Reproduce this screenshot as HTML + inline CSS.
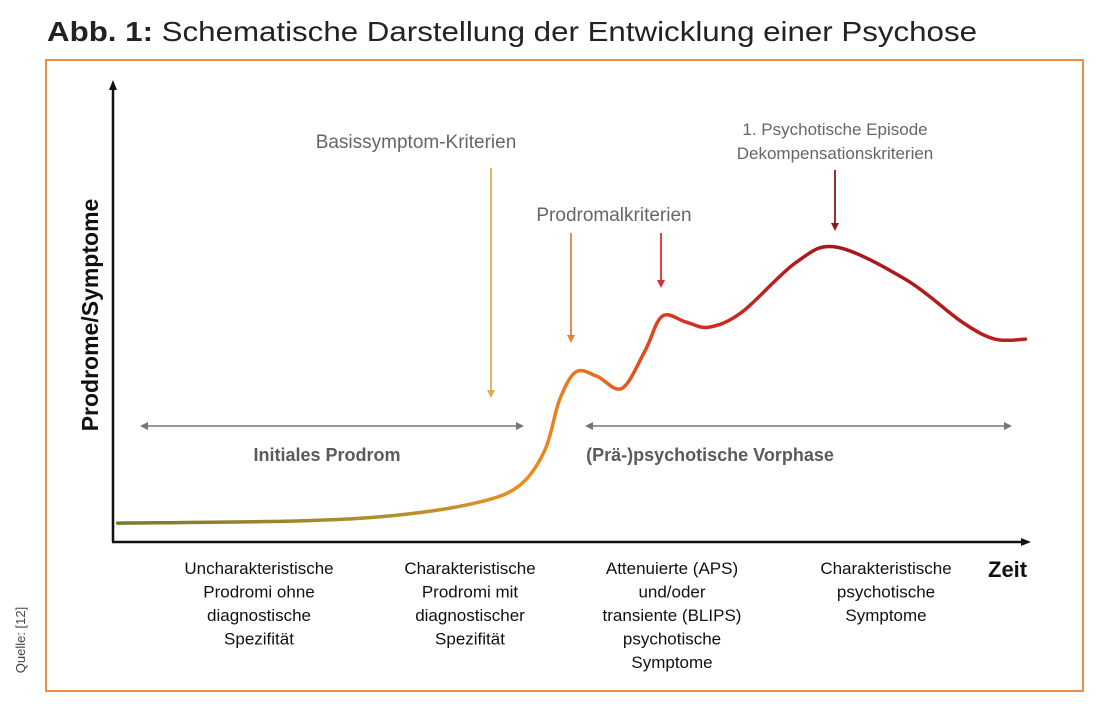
<!DOCTYPE html>
<html><head><meta charset="utf-8"><style>
body{margin:0;background:#fff;}
svg{display:block;font-family:"Liberation Sans",Arial,sans-serif;}
</style></head><body>
<svg width="1100" height="722" viewBox="0 0 1100 722">
<defs>
<linearGradient id="cg" gradientUnits="userSpaceOnUse" x1="118" y1="0" x2="1025" y2="0">
<stop offset="0" stop-color="#7a7a28"/>
<stop offset="0.3" stop-color="#b09030"/>
<stop offset="0.45" stop-color="#e8901e"/>
<stop offset="0.53" stop-color="#e86a20"/>
<stop offset="0.62" stop-color="#d83222"/>
<stop offset="0.78" stop-color="#a8161a"/>
<stop offset="1" stop-color="#b82020"/>
</linearGradient>
</defs>
<text x="47" y="41" font-size="28" fill="#222" textLength="930" lengthAdjust="spacingAndGlyphs"><tspan font-weight="bold">Abb. 1:</tspan> Schematische Darstellung der Entwicklung einer Psychose</text>
<rect x="46" y="60" width="1037" height="631" fill="none" stroke="#e8904a" stroke-width="2"/>
<text transform="translate(25,640) rotate(-90)" text-anchor="middle" font-size="13" fill="#444">Quelle: [12]</text>
<line x1="113" y1="542" x2="113" y2="88" stroke="#111" stroke-width="2.5"/>
<polygon points="113,80 109,90 117,90" fill="#111"/>
<line x1="112" y1="542" x2="1022" y2="542" stroke="#111" stroke-width="2.5"/>
<polygon points="1031,542 1021,538 1021,546" fill="#111"/>
<text transform="translate(98,315) rotate(-90)" text-anchor="middle" font-size="23" font-weight="bold" fill="#111">Prodrome/Symptome</text>
<text x="988" y="577" font-size="22" font-weight="bold" fill="#111">Zeit</text>
<g id="curve-layer"></g>
<g id="annot" font-size="19" fill="#666" text-anchor="middle">
<text x="416" y="148">Basissymptom-Kriterien</text>
<line x1="491" y1="168" x2="491" y2="392" stroke="#d9b050" stroke-width="1.8"/>
<polygon points="491,398 487,390 495,390" fill="#d9b050"/>
<text x="614" y="221">Prodromalkriterien</text>
<line x1="571" y1="233" x2="571" y2="336" stroke="#e8803a" stroke-width="1.8"/>
<polygon points="571,343 567,335 575,335" fill="#e8803a"/>
<line x1="661" y1="233" x2="661" y2="281" stroke="#d83030" stroke-width="1.8"/>
<polygon points="661,288 657,280 665,280" fill="#d83030"/>
<text x="835" y="135" font-size="17">1. Psychotische Episode</text>
<text x="835" y="159" font-size="17">Dekompensationskriterien</text>
<line x1="835" y1="170" x2="835" y2="224" stroke="#901818" stroke-width="1.8"/>
<polygon points="835,231 831,223 839,223" fill="#901818"/>
<line x1="146" y1="426" x2="518" y2="426" stroke="#777" stroke-width="1.5"/>
<polygon points="140,426 148,422 148,430" fill="#777"/>
<polygon points="524,426 516,422 516,430" fill="#777"/>
<line x1="591" y1="426" x2="1006" y2="426" stroke="#777" stroke-width="1.5"/>
<polygon points="585,426 593,422 593,430" fill="#777"/>
<polygon points="1012,426 1004,422 1004,430" fill="#777"/>
<text x="327" y="461" font-size="18" font-weight="bold" fill="#5a5a5a">Initiales Prodrom</text>
<text x="710" y="461" font-size="18" font-weight="bold" fill="#5a5a5a">(Prä-)psychotische Vorphase</text>
</g>
<g font-size="17" fill="#111" text-anchor="middle">
<text><tspan x="259" y="574">Uncharakteristische</tspan><tspan x="259" y="597.5">Prodromi ohne</tspan><tspan x="259" y="621">diagnostische</tspan><tspan x="259" y="644.5">Spezifität</tspan></text>
<text><tspan x="470" y="574">Charakteristische</tspan><tspan x="470" y="597.5">Prodromi mit</tspan><tspan x="470" y="621">diagnostischer</tspan><tspan x="470" y="644.5">Spezifität</tspan></text>
<text><tspan x="672" y="574">Attenuierte (APS)</tspan><tspan x="672" y="597.5">und/oder</tspan><tspan x="672" y="621">transiente (BLIPS)</tspan><tspan x="672" y="644.5">psychotische</tspan><tspan x="672" y="668">Symptome</tspan></text>
<text><tspan x="886" y="574">Charakteristische</tspan><tspan x="886" y="597.5">psychotische</tspan><tspan x="886" y="621">Symptome</tspan></text>
</g>
</svg>
<script>
const timePoints = [0.5, 20.4, 31.3, 40, 44.4, 47.1, 48.7, 50.5, 52.8, 55.5, 58, 59.9, 62.5, 65.0, 68.6, 74.5, 78.9, 86.5, 92.6, 96.2, 99.5];
const symptomLevels = [4.1, 4.6, 5.9, 8.7, 12.4, 20, 30.9, 37, 36.0, 33.4, 41.5, 49.1, 47.8, 46.7, 50.0, 60.8, 64.1, 57.0, 47.8, 44.1, 44.1];
function xScale(t){ return 113 + t * 9.17; }
function yScale(v){ return 542 - v * 4.6; }
const pts = timePoints.map((t,i)=>[xScale(t), yScale(symptomLevels[i])]);
let d = 'M' + pts[0][0] + ',' + pts[0][1];
for (let i=0;i<pts.length-1;i++){
  const p0=pts[Math.max(i-1,0)], p1=pts[i], p2=pts[i+1], p3=pts[Math.min(i+2,pts.length-1)];
  const c1x=p1[0]+(p2[0]-p0[0])/6, c1y=p1[1]+(p2[1]-p0[1])/6;
  const c2x=p2[0]-(p3[0]-p1[0])/6, c2y=p2[1]-(p3[1]-p1[1])/6;
  d += ' C'+c1x+','+c1y+' '+c2x+','+c2y+' '+p2[0]+','+p2[1];
}
const path = document.createElementNS('http://www.w3.org/2000/svg','path');
path.setAttribute('d', d);
path.setAttribute('fill','none');
path.setAttribute('stroke','url(#cg)');
path.setAttribute('stroke-width','3.5');
path.setAttribute('stroke-linecap','round');


document.getElementById('curve-layer').appendChild(path);
</script>
</body></html>
